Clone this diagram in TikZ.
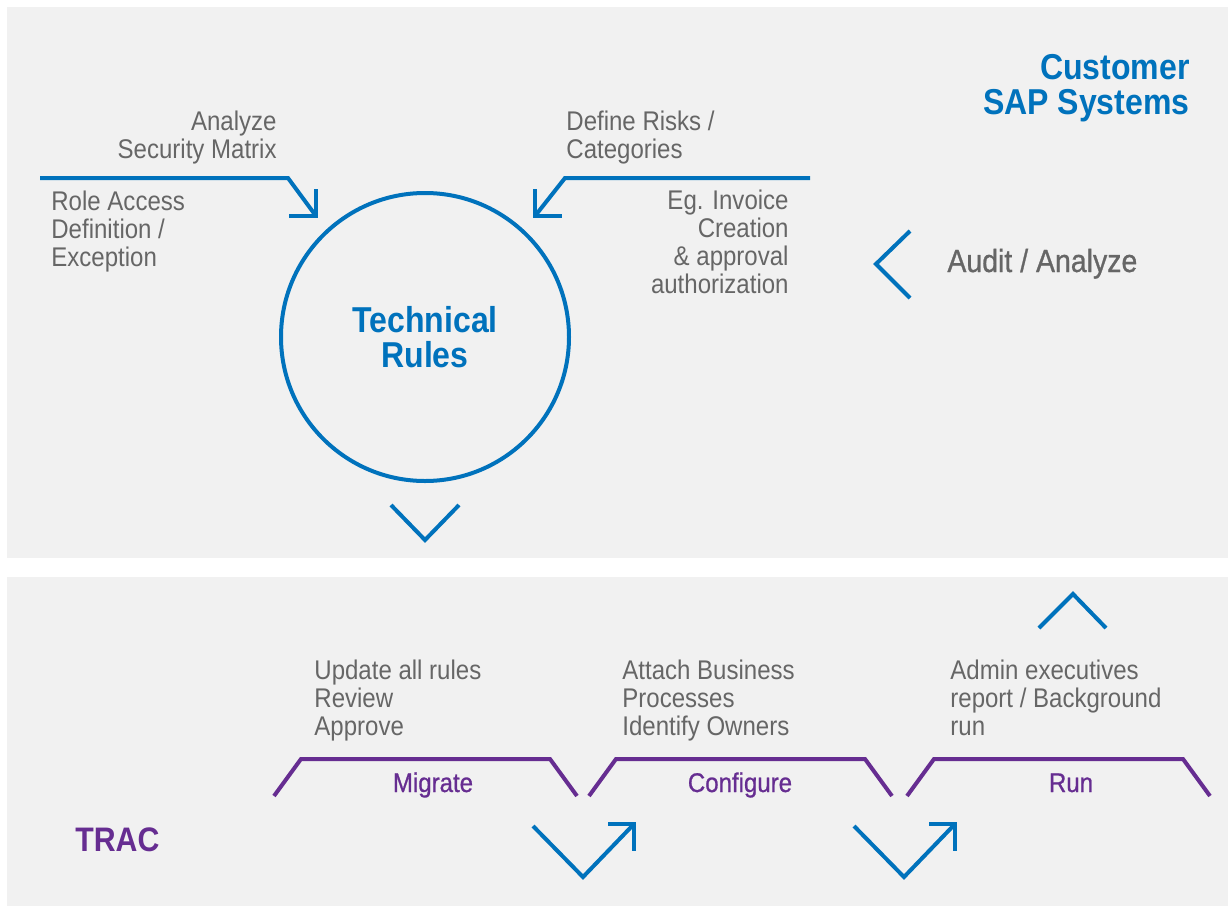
\documentclass[tikz,border=0pt]{standalone}
\usepackage{fontspec}
\setmainfont{Liberation Sans}[FakeStretch=0.89]
\newfontfamily\medfont{Liberation Sans}[FakeStretch=0.89, FakeBold=0.8]
\usetikzlibrary{positioning}
\definecolor{sapblue}{HTML}{0072BC}
\definecolor{tracpurple}{HTML}{662D91}
\definecolor{textgray}{HTML}{666666}
\definecolor{panelgray}{HTML}{F1F1F1}

\begin{document}
\begin{tikzpicture}[x=0.5pt, y=-0.5pt,
  graytext/.style={text=textgray, font=\fontsize{13.5}{14}\selectfont, inner sep=0pt},
  bluetitle/.style={text=sapblue, font=\fontsize{18}{17.5}\selectfont\bfseries, inner sep=0pt},
  blueline/.style={draw=sapblue, line width=2pt, line join=miter},
  phase/.style={draw=tracpurple, line width=2pt, line join=miter},
  phaselabel/.style={text=tracpurple, font=\medfont\fontsize{13.5}{14}\selectfont, inner sep=0pt, anchor=base}]
% Page and the two panels
\useasboundingbox[fill=white] (0,0) rectangle (1228,906);
\fill[panelgray] (7,7) rectangle (1228,558);
\fill[panelgray] (7,577) rectangle (1228,906);

% Customer side
\node (sap) [bluetitle, align=right, anchor=base east] at (1190,114) {Customer\\SAP Systems};
\node (rules) [bluetitle, align=center, draw=sapblue, line width=2pt, circle, minimum size=144pt] at (425,337) {Technical\\Rules};

% Inputs into the rules
\node (matrix) [graytext, align=right, anchor=base east] at (277,158) {Analyze\\Security Matrix};
\node (roles) [graytext, align=left, anchor=base west] at (51,266) {Role Access\\Definition /\\Exception};
\node (risks) [graytext, align=left, anchor=base west] at (566,158) {Define Risks /\\Categories};
\node (invoice) [graytext, align=right, anchor=base east] at (789,293) {Eg. Invoice\\Creation\\\& approval\\authorization};

\coordinate (lin) at (40,178);
\coordinate (lbend) at (288,178);
\coordinate (ltip) at (316,216);
\draw[blueline] (lin) -- (lbend) -- (ltip);
\draw[blueline] (ltip) ++(0,-27) -- (ltip) -- ++(-27,0);

\coordinate (rin) at (810,178);
\coordinate (rbend) at (565,178);
\coordinate (rtip) at (535,216);
\draw[blueline] (rin) -- (rbend) -- (rtip);
\draw[blueline] (rtip) ++(0,-27) -- (rtip) -- ++(27,0);

% Audit
\node (audit) [text=textgray, font=\medfont\fontsize{16}{16}\selectfont, inner sep=0pt, anchor=base west] at (947,272) {Audit / Analyze};
\draw[blueline] (910,231) -- (876,264) -- (910,298);

% Down to TRAC
\draw[blueline] (391,505) -- (425,540) -- (459,505);

% TRAC side
\node (trac) [text=tracpurple, font=\fontsize{17}{17}\selectfont\bfseries, inner sep=0pt, anchor=base west] at (75,851) {TRAC};
\draw[blueline] (1039,628) -- (1073,594) -- (1106,628);

\node (update) [graytext, align=left, anchor=base west] at (314,735) {Update all rules\\Review\\Approve};
\node (attach) [graytext, align=left, anchor=base west] at (622,735) {Attach Business\\Processes\\Identify Owners};
\node (admin) [graytext, align=left, anchor=base west] at (950,735) {Admin executives\\report / Background\\run};

% Phases
\foreach \x/\lx/\name in {274/433/Migrate, 589/740/Configure, 907/1071/Run} {
  \draw[phase] (\x,796) -- ++(27,-37) -- ++(249,0) -- ++(27,37);
  \node (\name) [phaselabel] at (\lx,792) {\name};
}

% Steps between phases
\foreach \x in {533, 854} {
  \draw[blueline] (\x,826) -- ++(50,51) -- ++(51,-53);
  \draw[blueline] (\x,824) ++(75,0) -- ++(26,0) -- ++(0,27);
}
\end{tikzpicture}
\end{document}
